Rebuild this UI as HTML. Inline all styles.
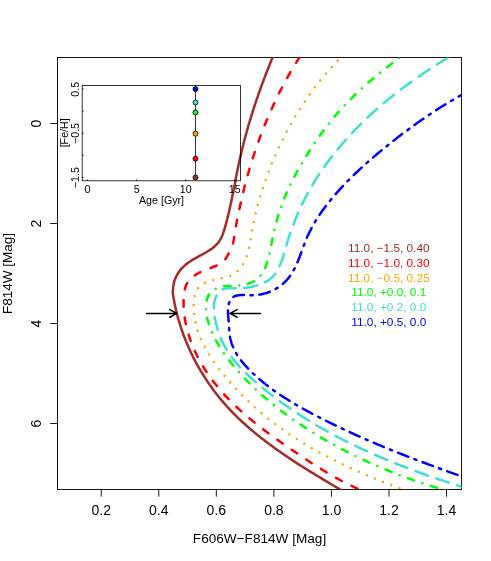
<!DOCTYPE html>
<html><head><meta charset="utf-8"><title>Isochrones</title>
<style>
html,body{margin:0;padding:0;background:#fff;}
body{width:491px;height:561px;overflow:hidden;}
svg{display:block;will-change:transform;}
text{font-family:"Liberation Sans",sans-serif;}
</style></head><body>
<svg width="491" height="561" viewBox="0 0 491 561">
<rect width="491" height="561" fill="#fff"/>
<defs><clipPath id="cp"><rect x="57.5" y="57.5" width="404" height="432"/></clipPath></defs>
<g font-size="14" fill="#000" opacity="0.999">
<g stroke="#000" stroke-width="0.9" fill="none"><line x1="101.24" y1="489.5" x2="101.24" y2="496.7"/><line x1="158.79" y1="489.5" x2="158.79" y2="496.7"/><line x1="216.34" y1="489.5" x2="216.34" y2="496.7"/><line x1="273.89" y1="489.5" x2="273.89" y2="496.7"/><line x1="331.44" y1="489.5" x2="331.44" y2="496.7"/><line x1="388.99" y1="489.5" x2="388.99" y2="496.7"/><line x1="446.54" y1="489.5" x2="446.54" y2="496.7"/><line x1="50.2" y1="123.50" x2="57.5" y2="123.50"/><line x1="50.2" y1="223.50" x2="57.5" y2="223.50"/><line x1="50.2" y1="323.50" x2="57.5" y2="323.50"/><line x1="50.2" y1="423.50" x2="57.5" y2="423.50"/></g>
<text x="101.24" y="515" text-anchor="middle">0.2</text><text x="158.79" y="515" text-anchor="middle">0.4</text><text x="216.34" y="515" text-anchor="middle">0.6</text><text x="273.89" y="515" text-anchor="middle">0.8</text><text x="331.44" y="515" text-anchor="middle">1.0</text><text x="388.99" y="515" text-anchor="middle">1.2</text><text x="446.54" y="515" text-anchor="middle">1.4</text>
<text transform="translate(40.9 123.50) rotate(-90)" text-anchor="middle">0</text><text transform="translate(40.9 223.50) rotate(-90)" text-anchor="middle">2</text><text transform="translate(40.9 323.50) rotate(-90)" text-anchor="middle">4</text><text transform="translate(40.9 423.50) rotate(-90)" text-anchor="middle">6</text>
<text x="259.5" y="543" text-anchor="middle" font-size="13.6">F606W−F814W [Mag]</text>
<text transform="translate(12.3 273.4) rotate(-90)" text-anchor="middle" font-size="13.5">F814W [Mag]</text>
</g>
<rect x="57.5" y="57.5" width="404" height="432" fill="none" stroke="#000" stroke-width="0.9"/>
<g clip-path="url(#cp)" fill="none" stroke-width="2.5" stroke-linecap="round" stroke-linejoin="round">
<path id="brown" d="M274.4 53.0L273.8 54.4L273.3 55.7L272.7 57.1L272.1 58.5L271.5 59.9L271.0 61.3L270.4 62.7L269.8 64.1L269.3 65.5L268.7 66.9L268.2 68.3L267.6 69.7L267.1 71.1L266.5 72.5L266.0 73.9L265.4 75.3L264.9 76.7L264.4 78.2L263.8 79.6L263.3 81.0L262.8 82.4L262.2 83.8L261.7 85.2L261.2 86.6L260.7 88.0L260.2 89.5L259.7 90.9L259.2 92.3L258.7 93.7L258.2 95.2L257.7 96.6L257.2 98.0L256.7 99.4L256.2 100.9L255.7 102.3L255.3 103.7L254.8 105.1L254.3 106.6L253.8 108.0L253.4 109.4L252.9 110.9L252.5 112.3L252.0 113.7L251.6 115.2L251.1 116.6L250.7 118.1L250.2 119.5L249.8 121.0L249.4 122.4L248.9 123.8L248.5 125.3L248.1 126.7L247.7 128.2L247.3 129.6L246.9 131.1L246.5 132.5L246.1 134.0L245.7 135.4L245.3 136.9L244.9 138.4L244.5 139.8L244.1 141.3L243.7 142.7L243.4 144.2L243.0 145.7L242.6 147.1L242.3 148.6L241.9 150.0L241.6 151.5L241.2 153.0L240.9 154.4L240.6 155.9L240.2 157.4L239.9 158.9L239.6 160.3L239.3 161.8L238.9 163.3L238.6 164.7L238.3 166.2L238.0 167.7L237.7 169.2L237.4 170.7L237.1 172.1L236.8 173.6L236.5 175.1L236.2 176.6L235.9 178.0L235.7 179.5L235.4 181.0L235.1 182.5L234.8 184.0L234.5 185.4L234.2 186.9L233.9 188.4L233.6 189.9L233.3 191.4L233.0 192.8L232.7 194.3L232.4 195.8L232.1 197.3L231.8 198.7L231.5 200.2L231.2 201.7L230.9 203.2L230.6 204.6L230.3 206.1L229.9 207.6L229.6 209.1L229.3 210.5L228.9 212.0L228.6 213.5L228.2 214.9L227.9 216.4L227.5 217.9L227.2 219.3L226.8 220.8L226.4 222.2L226.0 223.7L225.6 225.1L225.2 226.6L224.8 228.0L224.4 229.5L223.9 230.9L223.4 232.4L222.9 233.8L222.4 235.2L221.8 236.6L221.1 237.9L220.4 239.3L219.7 240.5L218.8 241.8L217.9 243.0L216.9 244.1L215.9 245.2L214.8 246.2L213.6 247.2L212.4 248.2L211.2 249.0L210.0 249.9L208.7 250.7L207.4 251.5L206.1 252.3L204.8 253.0L203.5 253.8L202.2 254.5L200.9 255.2L199.5 255.9L198.2 256.7L196.9 257.4L195.6 258.1L194.3 258.9L193.0 259.6L191.7 260.4L190.4 261.2L189.2 262.0L187.9 262.9L186.7 263.8L185.5 264.8L184.4 265.8L183.3 266.8L182.3 267.9L181.2 269.0L180.3 270.1L179.4 271.3L178.5 272.6L177.7 273.8L176.9 275.1L176.2 276.5L175.6 277.9L175.0 279.3L174.5 280.7L174.1 282.1L173.7 283.6L173.5 285.1L173.2 286.5L173.1 288.0L173.0 289.5L172.9 291.1L172.8 292.3L172.8 293.7L173.1 295.2L173.3 296.6L173.6 298.1L173.8 299.6L174.1 301.1L174.4 302.5L174.7 304.0L175.0 305.5L175.3 307.0L175.6 308.4L176.0 309.9L176.3 311.4L176.7 312.8L177.0 314.3L177.4 315.7L177.8 317.2L178.2 318.6L178.6 320.1L179.1 321.5L179.5 322.9L179.9 324.4L180.4 325.8L180.8 327.2L181.3 328.7L181.8 330.1L182.3 331.5L182.8 332.9L183.3 334.3L183.8 335.8L184.4 337.2L184.9 338.6L185.5 340.0L186.0 341.4L186.6 342.7L187.2 344.1L187.8 345.5L188.4 346.9L189.0 348.3L189.6 349.6L190.2 351.0L190.9 352.4L191.5 353.7L192.2 355.1L192.8 356.4L193.5 357.8L194.2 359.1L194.9 360.4L195.6 361.8L196.3 363.1L197.0 364.4L197.7 365.7L198.5 367.0L199.2 368.3L200.0 369.6L200.7 370.9L201.5 372.2L202.3 373.5L203.1 374.8L203.9 376.0L204.7 377.3L205.5 378.6L206.3 379.8L207.2 381.1L208.0 382.3L208.9 383.6L209.7 384.8L210.6 386.0L211.5 387.2L212.3 388.5L213.2 389.7L214.1 390.9L215.0 392.1L216.0 393.3L216.9 394.5L217.8 395.6L218.7 396.8L219.7 398.0L220.6 399.1L221.6 400.3L222.6 401.4L223.6 402.6L224.5 403.7L225.5 404.8L226.5 406.0L227.5 407.1L228.6 408.2L229.6 409.3L230.6 410.4L231.7 411.5L232.7 412.5L233.7 413.6L234.8 414.7L235.9 415.7L236.9 416.8L238.0 417.9L239.1 418.9L240.2 419.9L241.3 421.0L242.4 422.0L243.5 423.0L244.6 424.0L245.7 425.0L246.8 426.0L248.0 427.0L249.1 428.0L250.2 429.0L251.4 430.0L252.5 430.9L253.7 431.9L254.8 432.8L256.0 433.8L257.2 434.7L258.3 435.7L259.5 436.6L260.7 437.6L261.9 438.5L263.1 439.4L264.3 440.3L265.4 441.2L266.6 442.1L267.8 443.1L269.0 444.0L270.3 444.8L271.5 445.7L272.7 446.6L273.9 447.5L275.1 448.4L276.3 449.3L277.6 450.1L278.8 451.0L280.0 451.8L281.3 452.7L282.5 453.6L283.7 454.4L285.0 455.3L286.2 456.1L287.5 456.9L288.7 457.8L290.0 458.6L291.2 459.4L292.5 460.3L293.7 461.1L295.0 461.9L296.2 462.7L297.5 463.6L298.8 464.4L300.0 465.2L301.3 466.0L302.6 466.8L303.8 467.6L305.1 468.4L306.4 469.2L307.7 470.0L308.9 470.8L310.2 471.6L311.5 472.4L312.8 473.1L314.1 473.9L315.3 474.7L316.6 475.5L317.9 476.3L319.2 477.0L320.5 477.8L321.8 478.6L323.1 479.4L324.4 480.1L325.6 480.9L326.9 481.7L328.2 482.4L329.5 483.2L330.8 484.0L332.1 484.7L333.4 485.5L334.7 486.3L336.0 487.0L337.3 487.8L338.6 488.5L339.9 489.3L341.2 490.0L342.5 490.8L343.8 491.5L345.1 492.3L346.4 493.1L347.7 493.8" stroke="#A52A2A"/>
<path id="red" d="M302.0 53.5L301.1 54.7L300.3 56.0L299.5 57.3L298.7 58.5L297.9 59.8L297.1 61.1L296.3 62.4L295.5 63.6L294.7 64.9L294.0 66.2L293.2 67.5L292.4 68.8L291.6 70.1L290.9 71.4L290.1 72.7L289.4 74.0L288.6 75.3L287.9 76.6L287.2 77.9L286.4 79.2L285.7 80.6L285.0 81.9L284.3 83.2L283.6 84.5L282.9 85.9L282.2 87.2L281.5 88.5L280.8 89.9L280.1 91.2L279.4 92.5L278.8 93.9L278.1 95.2L277.4 96.6L276.8 97.9L276.1 99.3L275.5 100.7L274.8 102.0L274.2 103.4L273.5 104.7L272.9 106.1L272.3 107.5L271.7 108.8L271.0 110.2L270.4 111.6L269.8 113.0L269.2 114.3L268.6 115.7L268.0 117.1L267.5 118.5L266.9 119.9L266.3 121.3L265.7 122.6L265.1 124.0L264.6 125.4L264.0 126.8L263.5 128.2L262.9 129.6L262.4 131.0L261.8 132.4L261.3 133.8L260.8 135.2L260.2 136.7L259.7 138.1L259.2 139.5L258.7 140.9L258.2 142.3L257.7 143.7L257.2 145.1L256.7 146.6L256.2 148.0L255.7 149.4L255.2 150.8L254.7 152.3L254.3 153.7L253.8 155.1L253.3 156.5L252.9 158.0L252.4 159.4L251.9 160.8L251.5 162.3L251.1 163.7L250.6 165.1L250.2 166.6L249.8 168.0L249.3 169.5L248.9 170.9L248.5 172.4L248.1 173.8L247.7 175.3L247.3 176.7L246.9 178.1L246.5 179.6L246.1 181.1L245.7 182.5L245.3 184.0L244.9 185.4L244.5 186.9L244.2 188.3L243.8 189.8L243.4 191.2L243.1 192.7L242.7 194.2L242.4 195.6L242.0 197.1L241.7 198.6L241.3 200.0L241.0 201.5L240.7 203.0L240.4 204.4L240.0 205.9L239.7 207.4L239.4 208.8L239.1 210.3L238.8 211.8L238.5 213.3L238.2 214.7L237.9 216.2L237.6 217.7L237.3 219.2L237.0 220.6L236.7 222.1L236.5 223.6L236.2 225.1L235.9 226.5L235.7 228.0L235.4 229.5L235.2 231.0L234.9 232.5L234.7 234.0L234.4 235.4L234.2 236.9L233.9 238.4L233.7 239.9L233.4 241.4L233.1 242.8L232.7 244.3L232.3 245.7L231.8 247.2L231.2 248.5L230.5 249.9L229.8 251.2L229.1 252.6L228.4 253.9L227.7 255.2L227.0 256.5L226.3 257.8L225.4 259.1L224.5 260.3L223.4 261.3L222.3 262.3L221.1 263.2L219.8 264.0L218.5 264.7L217.1 265.3L215.7 265.9L214.3 266.5L212.9 267.0L211.5 267.5L210.1 268.0L208.7 268.5L207.3 269.1L205.9 269.6L204.5 270.2L203.1 270.8L201.7 271.4L200.4 272.1L199.1 272.8L197.7 273.5L196.4 274.3L195.2 275.1L193.9 275.9L192.8 276.9L191.6 277.8L190.5 278.9L189.5 280.0L188.5 281.1L187.7 282.4L186.9 283.6L186.2 285.0L185.6 286.4L185.2 287.8L184.8 289.3L184.4 290.7L184.2 292.2L184.0 293.7L183.8 295.2L183.7 296.7L183.6 298.2L183.6 299.7L183.5 301.2L183.5 302.7L183.6 304.2L183.6 305.7L183.7 307.2L183.7 308.7L183.8 310.2L184.0 311.7L184.1 313.2L184.3 314.7L184.5 316.2L184.7 317.7L184.9 319.2L185.2 320.6L185.5 322.1L185.7 323.6L186.1 325.1L186.4 326.5L186.7 328.0L187.1 329.5L187.5 330.9L187.9 332.4L188.3 333.8L188.8 335.2L189.2 336.7L189.7 338.1L190.2 339.5L190.7 340.9L191.2 342.3L191.8 343.8L192.3 345.1L192.9 346.5L193.5 347.9L194.1 349.3L194.7 350.7L195.3 352.0L196.0 353.4L196.6 354.8L197.3 356.1L198.0 357.4L198.7 358.8L199.4 360.1L200.1 361.4L200.9 362.7L201.6 364.0L202.4 365.3L203.2 366.6L203.9 367.9L204.7 369.2L205.6 370.4L206.4 371.7L207.2 372.9L208.1 374.2L208.9 375.4L209.8 376.6L210.7 377.9L211.6 379.1L212.5 380.3L213.4 381.5L214.3 382.7L215.2 383.8L216.2 385.0L217.1 386.2L218.1 387.3L219.0 388.5L220.0 389.6L221.0 390.8L222.0 391.9L223.0 393.0L224.0 394.2L225.0 395.3L226.0 396.4L227.1 397.5L228.1 398.5L229.1 399.6L230.2 400.7L231.3 401.8L232.3 402.8L233.4 403.9L234.5 404.9L235.6 406.0L236.6 407.0L237.7 408.0L238.8 409.1L240.0 410.1L241.1 411.1L242.2 412.1L243.3 413.1L244.4 414.1L245.6 415.1L246.7 416.0L247.9 417.0L249.0 418.0L250.2 419.0L251.3 419.9L252.5 420.9L253.6 421.8L254.8 422.8L256.0 423.7L257.2 424.6L258.4 425.6L259.5 426.5L260.7 427.4L261.9 428.3L263.1 429.3L264.3 430.2L265.5 431.1L266.7 432.0L267.9 432.9L269.1 433.8L270.3 434.7L271.5 435.5L272.8 436.4L274.0 437.3L275.2 438.2L276.4 439.1L277.6 439.9L278.9 440.8L280.1 441.7L281.3 442.6L282.6 443.4L283.8 444.3L285.0 445.1L286.3 446.0L287.5 446.8L288.7 447.7L290.0 448.5L291.2 449.4L292.5 450.2L293.7 451.1L295.0 451.9L296.2 452.8L297.4 453.6L298.7 454.5L299.9 455.3L301.2 456.1L302.4 457.0L303.7 457.8L304.9 458.6L306.2 459.5L307.4 460.3L308.7 461.1L310.0 462.0L311.2 462.8L312.5 463.6L313.8 464.4L315.0 465.2L316.3 466.0L317.6 466.8L318.8 467.6L320.1 468.4L321.4 469.2L322.7 470.0L324.0 470.8L325.3 471.5L326.5 472.3L327.8 473.1L329.1 473.8L330.4 474.6L331.7 475.4L333.0 476.1L334.3 476.8L335.7 477.6L337.0 478.3L338.3 479.0L339.6 479.8L340.9 480.5L342.3 481.2L343.6 481.9L344.9 482.6L346.3 483.2L347.6 483.9L349.0 484.6L350.3 485.3L351.7 485.9L353.0 486.6L354.4 487.2L355.7 487.8L357.1 488.5L358.5 489.1L359.9 489.7L361.2 490.3L362.6 490.9L364.0 491.5L365.4 492.0L366.8 492.6L368.2 493.2" stroke="#FF0000" stroke-dasharray="6.57 10.95" stroke-dashoffset="-4.43"/>
<path id="orange" d="M341.2 57.0L340.1 58.0L339.1 59.1L338.0 60.2L337.0 61.3L336.0 62.4L334.9 63.5L333.9 64.6L332.9 65.7L331.9 66.8L330.9 67.9L329.9 69.0L328.9 70.1L327.9 71.3L326.9 72.4L326.0 73.6L325.0 74.7L324.0 75.9L323.1 77.0L322.1 78.2L321.2 79.3L320.2 80.5L319.3 81.7L318.4 82.9L317.4 84.0L316.5 85.2L315.6 86.4L314.7 87.6L313.8 88.8L312.9 90.0L312.0 91.2L311.1 92.4L310.3 93.7L309.4 94.9L308.5 96.1L307.7 97.3L306.8 98.6L306.0 99.8L305.1 101.1L304.3 102.3L303.4 103.5L302.6 104.8L301.8 106.1L301.0 107.3L300.2 108.6L299.4 109.9L298.6 111.1L297.8 112.4L297.0 113.7L296.2 115.0L295.4 116.2L294.7 117.5L293.9 118.8L293.2 120.1L292.4 121.4L291.7 122.7L290.9 124.0L290.2 125.3L289.5 126.7L288.7 128.0L288.0 129.3L287.3 130.6L286.6 131.9L285.9 133.3L285.2 134.6L284.5 135.9L283.8 137.3L283.2 138.6L282.5 140.0L281.8 141.3L281.2 142.6L280.5 144.0L279.9 145.4L279.2 146.7L278.6 148.1L278.0 149.4L277.3 150.8L276.7 152.2L276.1 153.5L275.5 154.9L274.9 156.3L274.3 157.7L273.7 159.0L273.1 160.4L272.6 161.8L272.0 163.2L271.4 164.6L270.9 166.0L270.3 167.4L269.8 168.8L269.2 170.2L268.7 171.6L268.1 173.0L267.6 174.4L267.1 175.8L266.6 177.2L266.1 178.6L265.6 180.0L265.1 181.4L264.6 182.9L264.1 184.3L263.6 185.7L263.1 187.1L262.7 188.6L262.2 190.0L261.8 191.4L261.3 192.8L260.9 194.3L260.4 195.7L260.0 197.2L259.6 198.6L259.2 200.0L258.7 201.5L258.3 202.9L257.9 204.4L257.6 205.8L257.2 207.3L256.8 208.7L256.4 210.2L256.1 211.6L255.7 213.1L255.4 214.6L255.0 216.0L254.7 217.5L254.4 219.0L254.1 220.4L253.8 221.9L253.5 223.4L253.2 224.8L252.9 226.3L252.6 227.8L252.4 229.3L252.1 230.7L251.9 232.2L251.6 233.7L251.4 235.2L251.2 236.7L250.9 238.2L250.7 239.6L250.4 241.1L250.2 242.6L249.9 244.1L249.6 245.5L249.3 247.0L249.0 248.5L248.7 249.9L248.3 251.4L247.9 252.8L247.4 254.3L247.0 255.7L246.4 257.1L245.9 258.5L245.3 259.9L244.6 261.2L243.9 262.6L243.2 263.9L242.4 265.1L241.5 266.4L240.6 267.6L239.7 268.7L238.7 269.8L237.6 270.9L236.5 271.9L235.3 272.8L234.1 273.7L232.8 274.5L231.5 275.2L230.1 275.8L228.8 276.4L227.3 276.9L225.9 277.3L224.4 277.7L223.0 278.0L221.5 278.3L220.0 278.6L218.6 278.9L217.1 279.2L215.6 279.5L214.2 279.8L212.7 280.2L211.2 280.6L209.8 281.0L208.4 281.5L207.0 282.0L205.6 282.6L204.3 283.3L203.0 284.0L201.7 284.9L200.5 285.8L199.4 286.8L198.4 287.9L197.5 289.1L196.8 290.4L196.1 291.8L195.6 293.2L195.1 294.6L194.7 296.1L194.4 297.5L194.2 299.0L194.0 300.5L193.9 302.0L193.8 303.5L193.8 305.0L193.7 306.5L193.8 308.0L193.8 309.5L193.9 311.0L194.0 312.5L194.1 314.0L194.3 315.5L194.5 317.0L194.7 318.4L195.0 319.9L195.3 321.4L195.6 322.9L195.9 324.3L196.3 325.8L196.7 327.2L197.1 328.7L197.6 330.1L198.0 331.5L198.5 332.9L199.0 334.4L199.6 335.8L200.1 337.1L200.7 338.5L201.3 339.9L202.0 341.3L202.6 342.6L203.3 344.0L203.9 345.3L204.6 346.6L205.3 348.0L206.1 349.3L206.8 350.6L207.6 351.9L208.3 353.2L209.1 354.4L209.9 355.7L210.7 357.0L211.5 358.2L212.4 359.5L213.2 360.7L214.1 362.0L214.9 363.2L215.8 364.4L216.7 365.6L217.6 366.8L218.5 368.0L219.4 369.2L220.3 370.4L221.2 371.6L222.2 372.8L223.1 373.9L224.1 375.1L225.0 376.3L226.0 377.4L226.9 378.6L227.9 379.7L228.9 380.9L229.9 382.0L230.8 383.1L231.8 384.3L232.8 385.4L233.8 386.5L234.9 387.6L235.9 388.7L236.9 389.8L237.9 390.9L239.0 392.0L240.0 393.1L241.0 394.1L242.1 395.2L243.2 396.3L244.2 397.3L245.3 398.4L246.4 399.4L247.4 400.5L248.5 401.5L249.6 402.6L250.7 403.6L251.8 404.6L252.9 405.6L254.0 406.6L255.1 407.6L256.3 408.6L257.4 409.6L258.5 410.6L259.6 411.6L260.8 412.6L261.9 413.5L263.1 414.5L264.2 415.5L265.4 416.4L266.6 417.4L267.7 418.3L268.9 419.2L270.1 420.2L271.3 421.1L272.5 422.0L273.7 422.9L274.8 423.8L276.0 424.7L277.3 425.6L278.5 426.5L279.7 427.4L280.9 428.3L282.1 429.1L283.3 430.0L284.6 430.9L285.8 431.7L287.0 432.6L288.3 433.4L289.5 434.3L290.8 435.1L292.0 435.9L293.3 436.7L294.5 437.6L295.8 438.4L297.1 439.2L298.3 440.0L299.6 440.8L300.9 441.6L302.2 442.4L303.4 443.1L304.7 443.9L306.0 444.7L307.3 445.5L308.6 446.2L309.9 447.0L311.2 447.7L312.5 448.5L313.8 449.2L315.1 450.0L316.4 450.7L317.7 451.4L319.0 452.2L320.4 452.9L321.7 453.6L323.0 454.3L324.3 455.0L325.6 455.7L327.0 456.4L328.3 457.1L329.6 457.8L331.0 458.5L332.3 459.2L333.6 459.8L335.0 460.5L336.3 461.2L337.7 461.9L339.0 462.5L340.4 463.2L341.7 463.8L343.1 464.5L344.4 465.1L345.8 465.8L347.1 466.4L348.5 467.1L349.9 467.7L351.2 468.3L352.6 468.9L353.9 469.6L355.3 470.2L356.7 470.8L358.1 471.4L359.4 472.0L360.8 472.6L362.2 473.2L363.6 473.8L364.9 474.4L366.3 475.0L367.7 475.6L369.1 476.2L370.5 476.8L371.8 477.4L373.2 477.9L374.6 478.5L376.0 479.1L377.4 479.6L378.8 480.2L380.2 480.8L381.6 481.3L383.0 481.9L384.4 482.4L385.7 483.0L387.1 483.5L388.5 484.1L389.9 484.6L391.3 485.2L392.7 485.7L394.1 486.3L395.5 486.8L396.9 487.3L398.4 487.9L399.8 488.4L401.2 488.9L402.6 489.4L404.0 490.0L405.4 490.5L406.8 491.0" stroke="#FFA500" stroke-dasharray="0.01 8.76" stroke-dashoffset="-5.08"/>
<path id="green" d="M404.9 54.0L403.7 54.9L402.5 55.7L401.2 56.6L400.0 57.5L398.8 58.4L397.6 59.3L396.4 60.2L395.2 61.1L394.0 62.0L392.8 62.9L391.6 63.8L390.4 64.7L389.2 65.6L388.0 66.5L386.8 67.4L385.6 68.4L384.4 69.3L383.3 70.2L382.1 71.2L380.9 72.1L379.7 73.0L378.6 74.0L377.4 74.9L376.3 75.9L375.1 76.9L374.0 77.8L372.8 78.8L371.7 79.8L370.5 80.7L369.4 81.7L368.2 82.7L367.1 83.7L366.0 84.7L364.9 85.7L363.7 86.7L362.6 87.7L361.5 88.7L360.4 89.7L359.3 90.8L358.2 91.8L357.1 92.8L356.0 93.8L354.9 94.9L353.9 95.9L352.8 97.0L351.7 98.0L350.7 99.1L349.6 100.2L348.5 101.2L347.5 102.3L346.4 103.4L345.4 104.5L344.4 105.6L343.3 106.7L342.3 107.8L341.3 108.9L340.3 110.0L339.3 111.1L338.3 112.2L337.3 113.4L336.3 114.5L335.4 115.7L334.4 116.8L333.4 118.0L332.5 119.1L331.5 120.3L330.6 121.4L329.6 122.6L328.7 123.8L327.8 125.0L326.8 126.2L325.9 127.4L325.0 128.6L324.1 129.8L323.2 131.0L322.3 132.2L321.4 133.4L320.6 134.6L319.7 135.8L318.8 137.1L318.0 138.3L317.1 139.5L316.2 140.8L315.4 142.0L314.6 143.2L313.7 144.5L312.9 145.7L312.1 147.0L311.2 148.3L310.4 149.5L309.6 150.8L308.8 152.0L308.0 153.3L307.2 154.6L306.4 155.9L305.6 157.1L304.8 158.4L304.0 159.7L303.2 161.0L302.5 162.3L301.7 163.6L300.9 164.9L300.2 166.2L299.4 167.5L298.7 168.8L297.9 170.1L297.2 171.4L296.5 172.7L295.8 174.0L295.0 175.3L294.3 176.7L293.6 178.0L292.9 179.3L292.3 180.7L291.6 182.0L290.9 183.4L290.3 184.7L289.6 186.1L289.0 187.4L288.3 188.8L287.7 190.2L287.1 191.5L286.5 192.9L285.9 194.3L285.3 195.7L284.8 197.1L284.2 198.5L283.7 199.9L283.1 201.3L282.6 202.7L282.1 204.1L281.6 205.5L281.1 206.9L280.6 208.3L280.1 209.8L279.6 211.2L279.2 212.6L278.7 214.1L278.3 215.5L277.9 216.9L277.5 218.4L277.1 219.8L276.7 221.3L276.3 222.7L275.9 224.2L275.5 225.6L275.1 227.1L274.8 228.6L274.4 230.0L274.1 231.5L273.8 233.0L273.4 234.4L273.1 235.9L272.8 237.4L272.5 238.8L272.2 240.3L271.9 241.8L271.6 243.2L271.3 244.7L271.0 246.2L270.7 247.7L270.4 249.1L270.1 250.6L269.8 252.1L269.5 253.6L269.1 255.0L268.8 256.5L268.4 257.9L268.0 259.4L267.6 260.8L267.2 262.3L266.7 263.7L266.2 265.1L265.6 266.5L265.1 267.9L264.4 269.3L263.7 270.6L263.0 271.9L262.2 273.2L261.4 274.4L260.4 275.6L259.4 276.7L258.4 277.8L257.3 278.8L256.1 279.8L254.9 280.6L253.6 281.4L252.3 282.1L250.9 282.7L249.5 283.3L248.1 283.8L246.6 284.2L245.2 284.6L243.7 284.9L242.2 285.2L240.8 285.4L239.3 285.5L237.8 285.7L236.3 285.7L234.8 285.8L233.3 285.8L231.8 285.9L230.3 285.9L228.7 286.0L227.2 286.0L225.7 286.1L224.3 286.3L222.8 286.5L221.3 286.8L219.8 287.2L218.4 287.6L217.0 288.2L215.6 288.8L214.3 289.5L213.1 290.3L211.9 291.3L210.8 292.3L209.8 293.4L208.9 294.7L208.2 296.0L207.6 297.3L207.1 298.8L206.7 300.2L206.4 301.7L206.1 303.2L206.0 304.6L205.9 306.1L205.8 307.7L205.9 309.2L206.0 310.7L206.1 312.1L206.3 313.6L206.5 315.1L206.8 316.6L207.2 318.1L207.5 319.5L207.9 321.0L208.4 322.4L208.8 323.8L209.3 325.3L209.8 326.7L210.3 328.1L210.9 329.5L211.4 330.9L212.0 332.3L212.6 333.6L213.2 335.0L213.9 336.4L214.6 337.7L215.2 339.1L215.9 340.4L216.7 341.7L217.4 343.0L218.2 344.3L218.9 345.6L219.7 346.9L220.5 348.2L221.3 349.4L222.1 350.7L223.0 351.9L223.8 353.2L224.7 354.4L225.6 355.6L226.5 356.8L227.4 358.0L228.3 359.2L229.2 360.4L230.1 361.6L231.0 362.8L232.0 364.0L232.9 365.1L233.9 366.3L234.8 367.5L235.8 368.6L236.8 369.7L237.8 370.9L238.8 372.0L239.8 373.1L240.8 374.2L241.8 375.4L242.8 376.5L243.8 377.6L244.9 378.6L245.9 379.7L247.0 380.8L248.0 381.9L249.1 382.9L250.1 384.0L251.2 385.1L252.3 386.1L253.4 387.1L254.5 388.2L255.5 389.2L256.6 390.2L257.8 391.3L258.9 392.3L260.0 393.3L261.1 394.3L262.2 395.3L263.4 396.3L264.5 397.3L265.6 398.2L266.8 399.2L267.9 400.2L269.1 401.1L270.2 402.1L271.4 403.0L272.6 404.0L273.7 404.9L274.9 405.9L276.1 406.8L277.3 407.7L278.5 408.7L279.7 409.6L280.8 410.5L282.0 411.4L283.2 412.3L284.5 413.2L285.7 414.1L286.9 415.0L288.1 415.9L289.3 416.7L290.5 417.6L291.8 418.5L293.0 419.3L294.2 420.2L295.5 421.1L296.7 421.9L297.9 422.8L299.2 423.6L300.4 424.4L301.7 425.3L302.9 426.1L304.2 426.9L305.4 427.8L306.7 428.6L308.0 429.4L309.2 430.2L310.5 431.0L311.8 431.8L313.0 432.6L314.3 433.4L315.6 434.2L316.9 435.0L318.2 435.7L319.5 436.5L320.7 437.3L322.0 438.1L323.3 438.8L324.6 439.6L325.9 440.3L327.2 441.1L328.5 441.8L329.9 442.6L331.2 443.3L332.5 444.0L333.8 444.8L335.1 445.5L336.4 446.2L337.7 446.9L339.1 447.6L340.4 448.3L341.7 449.1L343.1 449.8L344.4 450.4L345.7 451.1L347.1 451.8L348.4 452.5L349.7 453.2L351.1 453.9L352.4 454.5L353.8 455.2L355.1 455.9L356.5 456.5L357.8 457.2L359.2 457.8L360.5 458.5L361.9 459.1L363.3 459.7L364.6 460.4L366.0 461.0L367.4 461.6L368.7 462.3L370.1 462.9L371.5 463.5L372.8 464.1L374.2 464.7L375.6 465.3L377.0 465.9L378.4 466.5L379.7 467.1L381.1 467.7L382.5 468.2L383.9 468.8L385.3 469.4L386.7 470.0L388.1 470.5L389.5 471.1L390.9 471.7L392.3 472.2L393.7 472.8L395.1 473.3L396.5 473.9L397.9 474.4L399.3 474.9L400.7 475.5L402.1 476.0L403.5 476.5L404.9 477.0L406.3 477.5L407.7 478.1L409.1 478.6L410.5 479.1L412.0 479.6L413.4 480.1L414.8 480.6L416.2 481.1L417.6 481.5L419.1 482.0L420.5 482.5L421.9 483.0L423.3 483.5L424.8 483.9L426.2 484.4L427.6 484.9L429.1 485.3L430.5 485.8L431.9 486.2L433.4 486.7L434.8 487.1L436.2 487.5L437.7 488.0L439.1 488.4L440.6 488.8L442.0 489.3L443.4 489.7L444.9 490.1L446.3 490.5L447.8 490.9L449.2 491.3L450.7 491.8L452.1 492.2L453.6 492.6L455.0 492.9" stroke="#00FF00" stroke-dasharray="0.01 8.76 6.57 8.76" stroke-dashoffset="-6.90"/>
<path id="turq" d="M455.0 53.2L453.7 54.0L452.4 54.7L451.2 55.5L449.9 56.3L448.6 57.1L447.3 57.9L446.0 58.7L444.8 59.5L443.5 60.3L442.2 61.1L441.0 61.9L439.7 62.7L438.4 63.5L437.2 64.3L435.9 65.1L434.6 65.9L433.4 66.8L432.1 67.6L430.9 68.4L429.6 69.2L428.4 70.1L427.1 70.9L425.9 71.7L424.6 72.6L423.4 73.4L422.1 74.3L420.9 75.1L419.7 76.0L418.4 76.8L417.2 77.7L416.0 78.5L414.7 79.4L413.5 80.3L412.3 81.1L411.1 82.0L409.8 82.9L408.6 83.8L407.4 84.6L406.2 85.5L405.0 86.4L403.8 87.3L402.6 88.2L401.4 89.1L400.2 90.0L399.0 90.9L397.8 91.9L396.6 92.8L395.4 93.7L394.2 94.6L393.1 95.5L391.9 96.5L390.7 97.4L389.5 98.4L388.4 99.3L387.2 100.3L386.1 101.2L384.9 102.2L383.8 103.1L382.6 104.1L381.5 105.1L380.3 106.0L379.2 107.0L378.0 108.0L376.9 109.0L375.8 110.0L374.7 111.0L373.5 112.0L372.4 113.0L371.3 114.0L370.2 115.0L369.1 116.0L368.0 117.1L366.9 118.1L365.8 119.1L364.7 120.2L363.7 121.2L362.6 122.3L361.5 123.3L360.4 124.4L359.4 125.4L358.3 126.5L357.3 127.6L356.2 128.6L355.2 129.7L354.1 130.8L353.1 131.9L352.1 133.0L351.0 134.1L350.0 135.2L349.0 136.3L348.0 137.4L347.0 138.5L346.0 139.6L345.0 140.7L344.0 141.9L343.0 143.0L342.0 144.1L341.1 145.3L340.1 146.4L339.1 147.6L338.2 148.7L337.2 149.9L336.3 151.1L335.3 152.2L334.4 153.4L333.4 154.6L332.5 155.8L331.6 156.9L330.7 158.1L329.8 159.3L328.9 160.5L328.0 161.7L327.1 162.9L326.2 164.2L325.3 165.4L324.5 166.6L323.6 167.8L322.7 169.1L321.9 170.3L321.0 171.5L320.2 172.8L319.4 174.0L318.5 175.3L317.7 176.5L316.9 177.8L316.1 179.1L315.3 180.3L314.5 181.6L313.7 182.9L313.0 184.2L312.2 185.5L311.4 186.8L310.7 188.1L309.9 189.4L309.2 190.7L308.4 192.0L307.7 193.3L307.0 194.6L306.3 196.0L305.6 197.3L304.9 198.6L304.2 200.0L303.6 201.3L302.9 202.6L302.2 204.0L301.6 205.3L300.9 206.7L300.3 208.1L299.7 209.4L299.0 210.8L298.4 212.2L297.8 213.5L297.2 214.9L296.7 216.3L296.1 217.7L295.5 219.1L294.9 220.5L294.4 221.9L293.8 223.3L293.3 224.7L292.8 226.1L292.2 227.5L291.7 228.9L291.2 230.3L290.7 231.7L290.2 233.1L289.7 234.6L289.3 236.0L288.8 237.4L288.3 238.8L287.9 240.3L287.4 241.7L287.0 243.1L286.6 244.6L286.2 246.0L285.7 247.5L285.3 248.9L284.9 250.3L284.5 251.8L284.1 253.2L283.7 254.7L283.2 256.1L282.8 257.5L282.3 259.0L281.8 260.4L281.3 261.8L280.8 263.2L280.2 264.6L279.6 266.0L279.0 267.3L278.3 268.7L277.6 270.0L276.9 271.3L276.0 272.6L275.2 273.8L274.3 275.0L273.3 276.1L272.2 277.2L271.1 278.2L270.0 279.2L268.8 280.1L267.5 280.9L266.3 281.7L264.9 282.4L263.6 283.1L262.2 283.7L260.8 284.3L259.4 284.8L258.0 285.3L256.6 285.7L255.1 286.1L253.7 286.4L252.2 286.8L250.7 287.1L249.2 287.3L247.8 287.5L246.3 287.7L244.8 287.9L243.3 288.1L241.8 288.2L240.3 288.2L238.8 288.3L237.3 288.3L235.8 288.3L234.3 288.3L232.8 288.3L231.3 288.2L229.8 288.2L228.3 288.3L226.8 288.4L225.3 288.6L223.8 288.9L222.4 289.5L221.1 290.2L219.9 291.1L218.9 292.2L217.9 293.4L217.1 294.6L216.4 295.9L215.8 297.3L215.2 298.7L214.8 300.2L214.5 301.6L214.2 303.1L214.1 304.6L214.0 306.1L213.9 307.6L214.0 309.1L214.0 310.6L214.1 312.1L214.3 313.6L214.5 315.1L214.7 316.6L214.9 318.0L215.2 319.5L215.5 321.0L215.8 322.5L216.1 323.9L216.5 325.4L216.9 326.8L217.3 328.3L217.7 329.7L218.1 331.2L218.6 332.6L219.1 334.0L219.7 335.4L220.2 336.8L220.8 338.2L221.4 339.6L222.0 340.9L222.6 342.3L223.3 343.6L224.0 345.0L224.7 346.3L225.4 347.6L226.2 348.9L226.9 350.2L227.7 351.5L228.6 352.7L229.4 354.0L230.3 355.2L231.1 356.4L232.0 357.6L232.9 358.8L233.9 360.0L234.8 361.2L235.7 362.3L236.7 363.5L237.7 364.6L238.7 365.8L239.7 366.9L240.7 368.0L241.8 369.1L242.8 370.1L243.9 371.2L244.9 372.3L246.0 373.3L247.1 374.3L248.2 375.4L249.3 376.4L250.4 377.4L251.5 378.4L252.6 379.4L253.8 380.4L254.9 381.4L256.0 382.4L257.2 383.4L258.3 384.3L259.5 385.3L260.6 386.2L261.8 387.2L262.9 388.1L264.1 389.1L265.3 390.0L266.5 391.0L267.6 391.9L268.8 392.8L270.0 393.7L271.2 394.7L272.4 395.6L273.6 396.5L274.8 397.4L276.0 398.3L277.2 399.2L278.4 400.1L279.6 401.0L280.8 401.9L282.0 402.8L283.2 403.6L284.4 404.5L285.7 405.4L286.9 406.2L288.1 407.1L289.4 408.0L290.6 408.8L291.8 409.7L293.1 410.5L294.3 411.3L295.6 412.2L296.8 413.0L298.1 413.8L299.3 414.7L300.6 415.5L301.9 416.3L303.1 417.1L304.4 417.9L305.7 418.7L306.9 419.5L308.2 420.3L309.5 421.1L310.8 421.9L312.1 422.6L313.3 423.4L314.6 424.2L315.9 424.9L317.2 425.7L318.5 426.5L319.8 427.2L321.1 428.0L322.4 428.7L323.7 429.4L325.0 430.2L326.4 430.9L327.7 431.6L329.0 432.4L330.3 433.1L331.6 433.8L332.9 434.5L334.3 435.2L335.6 435.9L336.9 436.6L338.2 437.3L339.6 438.0L340.9 438.7L342.2 439.4L343.6 440.1L344.9 440.8L346.3 441.4L347.6 442.1L349.0 442.8L350.3 443.4L351.7 444.1L353.0 444.8L354.4 445.4L355.7 446.1L357.1 446.7L358.4 447.3L359.8 448.0L361.1 448.6L362.5 449.3L363.9 449.9L365.2 450.5L366.6 451.1L368.0 451.7L369.3 452.4L370.7 453.0L372.1 453.6L373.5 454.2L374.8 454.8L376.2 455.4L377.6 456.0L379.0 456.6L380.3 457.2L381.7 457.8L383.1 458.3L384.5 458.9L385.9 459.5L387.3 460.1L388.7 460.6L390.0 461.2L391.4 461.8L392.8 462.3L394.2 462.9L395.6 463.5L397.0 464.0L398.4 464.6L399.8 465.1L401.2 465.7L402.6 466.2L404.0 466.7L405.4 467.3L406.8 467.8L408.2 468.4L409.6 468.9L411.0 469.4L412.4 469.9L413.8 470.5L415.2 471.0L416.7 471.5L418.1 472.0L419.5 472.5L420.9 473.0L422.3 473.5L423.7 474.0L425.1 474.6L426.5 475.1L428.0 475.6L429.4 476.1L430.8 476.5L432.2 477.0L433.6 477.5L435.1 478.0L436.5 478.5L437.9 479.0L439.3 479.5L440.7 479.9L442.2 480.4L443.6 480.9L445.0 481.4L446.4 481.8L447.9 482.3L449.3 482.8L450.7 483.2L452.2 483.7L453.6 484.2L455.0 484.6L456.4 485.1L457.9 485.6L459.3 486.0L460.7 486.5L462.2 486.9L463.6 487.4L465.0 487.8L466.5 488.3L467.9 488.7" stroke="#40E0D0" stroke-dasharray="13.14 8.76" stroke-dashoffset="-8.20"/>
<path id="blue" d="M467.9 91.5L466.6 92.2L465.3 92.9L464.0 93.6L462.6 94.3L461.3 95.0L460.0 95.8L458.7 96.5L457.4 97.3L456.1 98.0L454.8 98.7L453.5 99.5L452.2 100.3L450.9 101.0L449.6 101.8L448.3 102.6L447.0 103.3L445.8 104.1L444.5 104.9L443.2 105.7L441.9 106.5L440.6 107.3L439.4 108.1L438.1 108.9L436.8 109.7L435.6 110.5L434.3 111.3L433.1 112.2L431.8 113.0L430.6 113.8L429.3 114.7L428.1 115.5L426.8 116.3L425.6 117.2L424.3 118.0L423.1 118.9L421.9 119.7L420.6 120.6L419.4 121.5L418.2 122.3L416.9 123.2L415.7 124.1L414.5 124.9L413.3 125.8L412.1 126.7L410.8 127.6L409.6 128.5L408.4 129.4L407.2 130.3L406.0 131.2L404.8 132.1L403.6 133.0L402.4 133.9L401.2 134.8L400.0 135.7L398.8 136.6L397.6 137.5L396.4 138.4L395.3 139.4L394.1 140.3L392.9 141.2L391.7 142.1L390.5 143.1L389.4 144.0L388.2 145.0L387.0 145.9L385.8 146.8L384.7 147.8L383.5 148.7L382.3 149.7L381.2 150.6L380.0 151.6L378.9 152.5L377.7 153.5L376.6 154.5L375.4 155.4L374.3 156.4L373.1 157.4L372.0 158.4L370.8 159.4L369.7 160.4L368.6 161.3L367.5 162.3L366.3 163.3L365.2 164.3L364.1 165.3L363.0 166.4L361.9 167.4L360.8 168.4L359.7 169.4L358.6 170.4L357.5 171.5L356.4 172.5L355.3 173.5L354.2 174.6L353.1 175.6L352.1 176.7L351.0 177.7L349.9 178.8L348.9 179.9L347.8 180.9L346.8 182.0L345.7 183.1L344.7 184.2L343.7 185.3L342.6 186.4L341.6 187.5L340.6 188.6L339.6 189.7L338.6 190.8L337.6 191.9L336.6 193.0L335.6 194.2L334.6 195.3L333.6 196.4L332.6 197.6L331.7 198.7L330.7 199.9L329.8 201.1L328.8 202.2L327.9 203.4L327.0 204.6L326.0 205.8L325.1 207.0L324.2 208.2L323.3 209.4L322.5 210.6L321.6 211.8L320.7 213.1L319.9 214.3L319.0 215.5L318.2 216.8L317.4 218.1L316.6 219.3L315.8 220.6L315.0 221.9L314.3 223.2L313.5 224.5L312.8 225.8L312.1 227.1L311.3 228.4L310.7 229.8L310.0 231.1L309.3 232.5L308.7 233.8L308.0 235.2L307.4 236.6L306.8 237.9L306.2 239.3L305.7 240.7L305.1 242.1L304.6 243.5L304.0 244.9L303.5 246.3L303.0 247.7L302.5 249.1L302.0 250.6L301.5 252.0L300.9 253.4L300.4 254.8L299.9 256.2L299.4 257.6L298.8 259.0L298.2 260.4L297.7 261.8L297.1 263.2L296.5 264.5L295.8 265.9L295.2 267.3L294.5 268.6L293.8 269.9L293.1 271.2L292.3 272.5L291.5 273.8L290.7 275.1L289.8 276.3L288.9 277.5L288.0 278.6L287.0 279.8L285.9 280.9L284.9 281.9L283.8 283.0L282.7 284.0L281.5 284.9L280.3 285.9L279.1 286.7L277.9 287.6L276.6 288.4L275.3 289.1L274.0 289.8L272.6 290.5L271.3 291.2L269.9 291.7L268.5 292.3L267.1 292.8L265.6 293.2L264.2 293.6L262.7 294.0L261.3 294.3L259.8 294.6L258.3 294.8L256.8 295.0L255.3 295.1L253.8 295.2L252.3 295.3L250.8 295.3L249.3 295.3L247.8 295.2L246.3 295.2L244.8 295.1L243.3 295.1L241.8 295.1L240.3 295.1L238.8 295.3L237.3 295.5L235.8 295.8L234.4 296.3L233.1 297.1L231.9 298.0L230.9 299.1L230.1 300.4L229.5 301.7L229.0 303.2L228.6 304.6L228.3 306.1L228.1 307.6L228.0 309.1L228.0 310.6L228.0 312.1L228.0 313.6L228.1 315.1L228.2 316.6L228.4 318.1L228.5 319.6L228.7 321.1L228.8 322.6L228.9 324.1L229.0 325.6L229.0 327.1L229.1 328.6L229.2 330.1L229.3 331.6L229.5 333.1L229.6 334.6L229.9 336.0L230.1 337.5L230.4 339.0L230.8 340.5L231.2 341.9L231.6 343.3L232.1 344.8L232.7 346.2L233.3 347.5L233.9 348.9L234.5 350.3L235.2 351.6L236.0 352.9L236.7 354.2L237.5 355.5L238.4 356.7L239.2 358.0L240.1 359.2L241.0 360.4L241.9 361.6L242.9 362.7L243.8 363.9L244.8 365.0L245.8 366.1L246.8 367.2L247.9 368.3L248.9 369.4L250.0 370.5L251.0 371.5L252.1 372.6L253.2 373.6L254.3 374.6L255.4 375.7L256.5 376.7L257.7 377.7L258.8 378.6L259.9 379.6L261.1 380.6L262.2 381.5L263.4 382.5L264.6 383.4L265.7 384.4L266.9 385.3L268.1 386.2L269.3 387.1L270.5 388.0L271.7 388.9L272.9 389.8L274.2 390.7L275.4 391.6L276.6 392.4L277.9 393.3L279.1 394.1L280.4 395.0L281.6 395.8L282.9 396.6L284.1 397.4L285.4 398.2L286.7 399.0L287.9 399.8L289.2 400.6L290.5 401.4L291.8 402.2L293.1 403.0L294.4 403.7L295.6 404.5L296.9 405.3L298.2 406.0L299.6 406.7L300.9 407.5L302.2 408.2L303.5 409.0L304.8 409.7L306.1 410.4L307.4 411.1L308.8 411.8L310.1 412.5L311.4 413.3L312.7 414.0L314.1 414.7L315.4 415.4L316.7 416.0L318.1 416.7L319.4 417.4L320.7 418.1L322.1 418.8L323.4 419.5L324.8 420.1L326.1 420.8L327.5 421.5L328.8 422.2L330.1 422.8L331.5 423.5L332.8 424.1L334.2 424.8L335.6 425.5L336.9 426.1L338.3 426.8L339.6 427.4L341.0 428.0L342.3 428.7L343.7 429.3L345.1 430.0L346.4 430.6L347.8 431.2L349.1 431.9L350.5 432.5L351.9 433.1L353.2 433.7L354.6 434.4L356.0 435.0L357.4 435.6L358.7 436.2L360.1 436.8L361.5 437.4L362.8 438.0L364.2 438.6L365.6 439.2L367.0 439.8L368.4 440.4L369.7 441.0L371.1 441.6L372.5 442.2L373.9 442.8L375.3 443.4L376.6 444.0L378.0 444.6L379.4 445.1L380.8 445.7L382.2 446.3L383.6 446.9L385.0 447.4L386.4 448.0L387.7 448.6L389.1 449.2L390.5 449.7L391.9 450.3L393.3 450.8L394.7 451.4L396.1 452.0L397.5 452.5L398.9 453.1L400.3 453.6L401.7 454.2L403.1 454.7L404.5 455.3L405.9 455.8L407.3 456.4L408.7 456.9L410.1 457.5L411.5 458.0L412.9 458.5L414.3 459.1L415.7 459.6L417.1 460.1L418.5 460.7L419.9 461.2L421.3 461.7L422.7 462.3L424.1 462.8L425.5 463.3L427.0 463.8L428.4 464.4L429.8 464.9L431.2 465.4L432.6 465.9L434.0 466.4L435.4 467.0L436.8 467.5L438.2 468.0L439.7 468.5L441.1 469.0L442.5 469.5L443.9 470.0L445.3 470.5L446.7 471.0L448.1 471.6L449.6 472.1L451.0 472.6L452.4 473.1L453.8 473.6L455.2 474.1L456.6 474.6L458.1 475.1L459.5 475.6L460.9 476.1L462.3 476.6L463.7 477.1L465.1 477.5L466.6 478.0L468.0 478.5" stroke="#0000FF" stroke-dasharray="2.19 6.57 10.95 6.57" stroke-dashoffset="-17.13"/>
</g>
<g opacity="0.999"><rect x="82.2" y="85.5" width="158.3" height="95.3" fill="none" stroke="#000" stroke-width="0.8"/><line x1="87.60" y1="180.8" x2="87.60" y2="179.3" stroke="#000" stroke-width="0.8"/><text x="87.60" y="192.5" text-anchor="middle" font-size="10.7">0</text><line x1="136.63" y1="180.8" x2="136.63" y2="179.3" stroke="#000" stroke-width="0.8"/><text x="136.63" y="192.5" text-anchor="middle" font-size="10.7">5</text><line x1="185.67" y1="180.8" x2="185.67" y2="179.3" stroke="#000" stroke-width="0.8"/><text x="185.67" y="192.5" text-anchor="middle" font-size="10.7">10</text><line x1="234.71" y1="180.8" x2="234.71" y2="179.3" stroke="#000" stroke-width="0.8"/><text x="234.71" y="192.5" text-anchor="middle" font-size="10.7">15</text><line x1="82.2" y1="89.00" x2="83.7" y2="89.00" stroke="#000" stroke-width="0.8"/><line x1="82.2" y1="111.10" x2="83.7" y2="111.10" stroke="#000" stroke-width="0.8"/><line x1="82.2" y1="133.20" x2="83.7" y2="133.20" stroke="#000" stroke-width="0.8"/><line x1="82.2" y1="155.30" x2="83.7" y2="155.30" stroke="#000" stroke-width="0.8"/><line x1="82.2" y1="177.40" x2="83.7" y2="177.40" stroke="#000" stroke-width="0.8"/><text transform="translate(79.0 89.30) rotate(-90)" text-anchor="middle" font-size="10.7">0.5</text><text transform="translate(79.0 133.50) rotate(-90)" text-anchor="middle" font-size="10.7">−0.5</text><text transform="translate(79.0 177.70) rotate(-90)" text-anchor="middle" font-size="10.7">−1.5</text><text transform="translate(67.9 132.8) rotate(-90)" text-anchor="middle" font-size="10.7">[Fe/H]</text><text x="161.5" y="204" text-anchor="middle" font-size="10.7">Age [Gyr]</text><line x1="195.5" y1="89.0" x2="195.5" y2="177.5" stroke="#000" stroke-width="0.8"/><circle cx="195.5" cy="89.10" r="2.5" fill="#0000FF" stroke="#000" stroke-width="0.8"/><circle cx="195.5" cy="102.40" r="2.5" fill="#40E0D0" stroke="#000" stroke-width="0.8"/><circle cx="195.5" cy="112.40" r="2.5" fill="#00FF00" stroke="#000" stroke-width="0.8"/><circle cx="195.5" cy="133.70" r="2.5" fill="#FFA500" stroke="#000" stroke-width="0.8"/><circle cx="195.5" cy="158.70" r="2.5" fill="#FF0000" stroke="#000" stroke-width="0.8"/><circle cx="195.5" cy="177.40" r="2.5" fill="#A52A2A" stroke="#000" stroke-width="0.8"/></g>
<g stroke="#000" stroke-width="1.55" fill="none" stroke-linecap="round" stroke-linejoin="round"><path d="M146.6 313.4H176.8M169.7 309.6L176.8 313.4L169.7 317.2"/><path d="M260.5 313.4H230M237.1 309.6L230 313.4L237.1 317.2"/></g>
<g opacity="0.999"><text x="388.8" y="252.2" text-anchor="middle" font-size="11.8" fill="#A52A2A">11.0, −1.5, 0.40</text><text x="388.8" y="266.9" text-anchor="middle" font-size="11.8" fill="#FF0000">11.0, −1.0, 0.30</text><text x="388.8" y="281.8" text-anchor="middle" font-size="11.8" fill="#FFA500">11.0, −0.5, 0.25</text><text x="388.8" y="296.4" text-anchor="middle" font-size="11.8" fill="#00FF00">11.0, +0.0, 0.1</text><text x="388.8" y="311.2" text-anchor="middle" font-size="11.8" fill="#40E0D0">11.0, +0.2, 0.0</text><text x="388.8" y="326.1" text-anchor="middle" font-size="11.8" fill="#0000FF">11.0, +0.5, 0.0</text></g>
</svg>
</body></html>
